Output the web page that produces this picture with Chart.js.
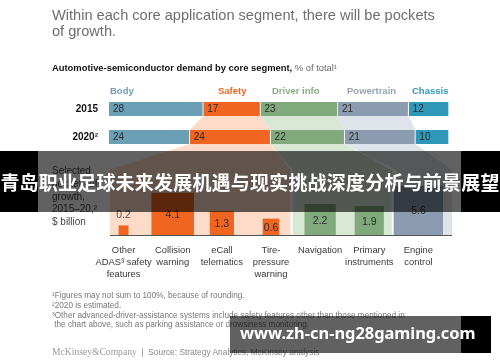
<!DOCTYPE html>
<html>
<head>
<meta charset="utf-8">
<script src="https://cdn.jsdelivr.net/npm/chart.js@4.4.1/dist/chart.umd.min.js"></script>
<style>
  html, body { margin: 0; padding: 0; background: #fff; }
  #wrap { position: relative; width: 500px; height: 362px; overflow: hidden; font-family: "Liberation Sans", Arial, sans-serif; }
  canvas { position: absolute; left: 0; top: 0; }
  .t { position: absolute; white-space: nowrap; }
  #title { left: 52px; top: 7px; font-size: 14.6px; line-height: 16px; color: #6e6e6e; }
  #subtitle { left: 52px; top: 62px; font-size: 9.4px; line-height: 11px; color: #222; }
  #subtitle b { color: #111; }
  #subtitle span { color: #666; }
  .seg { top: 85px; font-size: 9.5px; font-weight: bold; line-height: 12px; }
  #axisNote { left: 52px; top: 165px; font-size: 10px; line-height: 12.8px; color: #444; }
  #notes { left: 52px; top: 291px; font-size: 8.2px; line-height: 9.8px; color: #777; }
  #source { left: 52px; top: 346px; font-size: 8.4px; line-height: 11px; color: #888; }
  #source .mck { font-family: "Liberation Serif", serif; font-size: 9.6px; color: #9a9a9a; }
  #banner { left: 0; top: 151px; width: 500px; height: 61px;
    background: linear-gradient(to right, #000 0, #000 38px, rgba(0,0,0,0.62) 38px, rgba(0,0,0,0.62) 461px, #000 461px);
    color: #fff; font-family: "Noto Sans CJK SC", sans-serif; font-weight: bold; font-size: 19px;
    line-height: 61px; text-align: center; letter-spacing: 0.2px; }
  #mark { left: 230px; top: 316px; width: 261px; height: 37px;
    background: linear-gradient(to right, rgba(0,0,0,0.62) 0, rgba(0,0,0,0.62) 231px, #000 231px);
    color: #fff; font-family: "Noto Sans", sans-serif; font-weight: bold; font-size: 16.4px; line-height: 34px; padding-left: 10px; box-sizing: border-box; }
</style>
</head>
<body>
<div id="wrap">
  <canvas id="growthChart" width="500" height="362"></canvas>
  <canvas id="shareChart" width="500" height="362"></canvas>

  <div class="t" id="title">Within each core application segment, there will be pockets<br>of growth.</div>
  <div class="t" id="subtitle"><b>Automotive-semiconductor demand by core segment,</b> <span>% of total¹</span></div>
  <div class="t seg" style="left:110px;color:#6b9fb6">Body</div>
  <div class="t seg" style="left:218px;color:#f0651f">Safety</div>
  <div class="t seg" style="left:272px;color:#86ad81">Driver info</div>
  <div class="t seg" style="left:347px;color:#97a3b4">Powertrain</div>
  <div class="t seg" style="left:412px;color:#2f98b9">Chassis</div>

  <div class="t" id="axisNote">Selected<br>pockets of<br>growth,<br>2015–20,²<br>$ billion</div>

  <div class="t" id="notes">¹Figures may not sum to 100%, because of rounding.<br>²2020 is estimated.<br>³Other advanced-driver-assistance systems include safety features other than those mentioned in<br>&nbsp;the chart above, such as parking assistance or drowsiness monitoring.</div>
  <div class="t" id="source"><span class="mck">McKinsey&amp;Company</span> &nbsp;|&nbsp; Source: Strategy Analytics, McKinsey analysis</div>

  <div class="t" id="banner">青岛职业足球未来发展机遇与现实挑战深度分析与前景展望</div>
  <div class="t" id="mark">www.zh-cn-ng28gaming.com</div>
</div>

<script>
// share of total, %
const years = ['2015', '2020²'];
const segments = ['Body', 'Safety', 'Driver info', 'Powertrain', 'Chassis'];
const share2015 = [28, 17, 23, 21, 12];
const share2020 = [24, 24, 22, 21, 10];

// growth 2015-20, $ billion
const growthLabels = [
    ['Other', 'ADAS³ safety', 'features'],
    ['Collision', 'warning'],
    ['eCall', 'telematics'],
    ['Tire-', 'pressure', 'warning'],
    'Navigation',
    ['Primary', 'instruments'],
    ['Engine', 'control']
];
const growthValues = [0.2, 4.1, 1.3, 0.6, 2.2, 1.9, 5.6];
const growthSegment = [1, 1, 1, 1, 2, 2, 3];

const segColors = ['#6b9fb6', '#f0651f', '#80a97c', '#8b9bb0', '#2f98b9'];
const segTints = [null, '#fcdcc9', '#d8e8d5', '#dfe4ea', null];
const Y_MAX = 9;

// square markers: area follows the value, so the value axis is a sqrt one
class SqrtScale extends Chart.LinearScale {
    static id = 'sqrt';
    static defaults = Chart.LinearScale.defaults;
    getPixelForValue(value) {
        return this.getPixelForDecimal(Math.sqrt(Math.max(0, value)) / Math.sqrt(this.max));
    }
    getValueForPixel(pixel) {
        const d = this.getDecimalForPixel(pixel) * Math.sqrt(this.max);
        return d * d;
    }
}
Chart.register(SqrtScale);

const shareLabels = {
    id: 'shareLabels',
    afterDatasetsDraw(chart) {
        const ctx = chart.ctx;
        ctx.save();
        ctx.font = '10px "Liberation Sans", Arial, sans-serif';
        ctx.fillStyle = '#2b2b2b';
        ctx.textBaseline = 'middle';
        chart.data.datasets.forEach((ds, i) => {
            chart.getDatasetMeta(i).data.forEach((bar, j) => {
                ctx.fillText(ds.data[j], Math.min(bar.base, bar.x) + 4, bar.y + 0.5);
            });
        });
        ctx.restore();
    }
};

const shareChart = new Chart(document.getElementById('shareChart'), {
    type: 'bar',
    data: {
        labels: years,
        datasets: segments.map((s, i) => ({
            label: s,
            data: [share2015[i], share2020[i]],
            backgroundColor: segColors[i],
            borderColor: '#ffffff',
            borderWidth: { right: 1, left: 0, top: 0, bottom: 0 },
            borderSkipped: false,
            barThickness: 14
        }))
    },
    options: {
        indexAxis: 'y',
        responsive: false,
        animation: false,
        layout: { padding: { top: 95, bottom: 211, left: 0, right: 51 } },
        plugins: { legend: { display: false }, tooltip: { enabled: false } },
        scales: {
            x: { display: false, stacked: true, min: 0, max: 101 },
            y: {
                stacked: true,
                grid: { display: false, drawTicks: false },
                border: { display: false },
                ticks: { color: '#111', padding: 11, font: { family: '"Liberation Sans", Arial, sans-serif', size: 10, weight: 'bold' } },
                afterFit: (s) => { s.width = 109; }
            }
        }
    },
    plugins: [shareLabels]
});

// tinted bands linking the 2015 and 2020 bars and the growth columns
const colPad = { 1: [11, -5], 2: [-3, -2], 3: [3, 9] };
const bands = {
    id: 'bands',
    beforeDatasetsDraw(chart) {
        const ctx = chart.ctx;
        const xs = chart.scales.x;
        const step = xs.getPixelForValue(1) - xs.getPixelForValue(0);
        const baseY = chart.chartArea.bottom;
        const colTop = 170;
        ctx.save();
        [1, 2, 3].forEach(s => {
            const bars = shareChart.getDatasetMeta(s).data;
            const b15 = bars[0], b20 = bars[1];
            const idx = growthSegment.map((g, i) => g === s ? i : -1).filter(i => i >= 0);
            const colL = xs.getPixelForValue(idx[0]) - step / 2 + colPad[s][0];
            const colR = xs.getPixelForValue(idx[idx.length - 1]) + step / 2 + colPad[s][1];
            ctx.fillStyle = segTints[s];
            ctx.beginPath();
            ctx.moveTo(b15.base, b15.y + b15.height / 2);
            ctx.lineTo(b15.x, b15.y + b15.height / 2);
            ctx.lineTo(b20.x, b20.y - b20.height / 2);
            ctx.lineTo(b20.base, b20.y - b20.height / 2);
            ctx.closePath();
            ctx.fill();
            ctx.beginPath();
            ctx.moveTo(b20.base, b20.y + b20.height / 2);
            ctx.lineTo(b20.x, b20.y + b20.height / 2);
            ctx.lineTo(colR, colTop);
            ctx.lineTo(colR, baseY);
            ctx.lineTo(colL, baseY);
            ctx.lineTo(colL, colTop);
            ctx.closePath();
            ctx.fill();
        });
        const left = xs.getPixelForValue(0) - step / 2 + colPad[1][0];
        const right = xs.getPixelForValue(growthValues.length - 1) + step / 2 + colPad[3][1];
        ctx.strokeStyle = '#555';
        ctx.lineWidth = 1;
        ctx.beginPath();
        ctx.moveTo(left, baseY + 0.5);
        ctx.lineTo(right, baseY + 0.5);
        ctx.stroke();
        ctx.restore();
    },
    afterDatasetsDraw(chart) {
        const ctx = chart.ctx;
        ctx.save();
        ctx.font = '10.5px "Liberation Sans", Arial, sans-serif';
        ctx.textAlign = 'center';
        ctx.textBaseline = 'middle';
        chart.data.datasets.forEach((ds, i) => {
            const bar = chart.getDatasetMeta(i).data[i];
            const v = growthValues[i];
            if (v < 0.5) {
                ctx.fillStyle = '#555';
                ctx.fillText(v.toFixed(1), bar.x, bar.y - 11);
            } else {
                ctx.fillStyle = '#2b2b2b';
                ctx.fillText(v.toFixed(1), bar.x, (bar.y + bar.base) / 2 + 1);
            }
        });
        ctx.restore();
    }
};

const growthChart = new Chart(document.getElementById('growthChart'), {
    type: 'bar',
    data: {
        labels: growthLabels,
        datasets: growthValues.map((v, i) => ({
            data: growthValues.map((_, j) => j === i ? v : null),
            backgroundColor: segColors[growthSegment[i]],
            grouped: false,
            barPercentage: 1,
            categoryPercentage: 1
        }))
    },
    options: {
        responsive: false,
        animation: false,
        layout: { padding: { top: 173, bottom: 67, left: 99, right: 57 } },
        plugins: { legend: { display: false }, tooltip: { enabled: false } },
        scales: {
            x: {
                grid: { display: false, drawTicks: false },
                border: { display: false },
                ticks: {
                    color: '#3a3a3a', padding: 9, autoSkip: false, maxRotation: 0,
                    font: { family: '"Liberation Sans", Arial, sans-serif', size: 9.4, lineHeight: 1.28 }
                },
                afterFit: (s) => { s.height = 60; }
            },
            y: { type: 'sqrt', display: false, min: 0, max: Y_MAX }
        }
    },
    plugins: [bands]
});

// square side = bar height
const plotH = growthChart.chartArea.height;
growthChart.data.datasets.forEach((ds, i) => {
    ds.maxBarThickness = plotH * Math.sqrt(growthValues[i] / Y_MAX);
});
growthChart.update('none');
</script>
</body>
</html>
